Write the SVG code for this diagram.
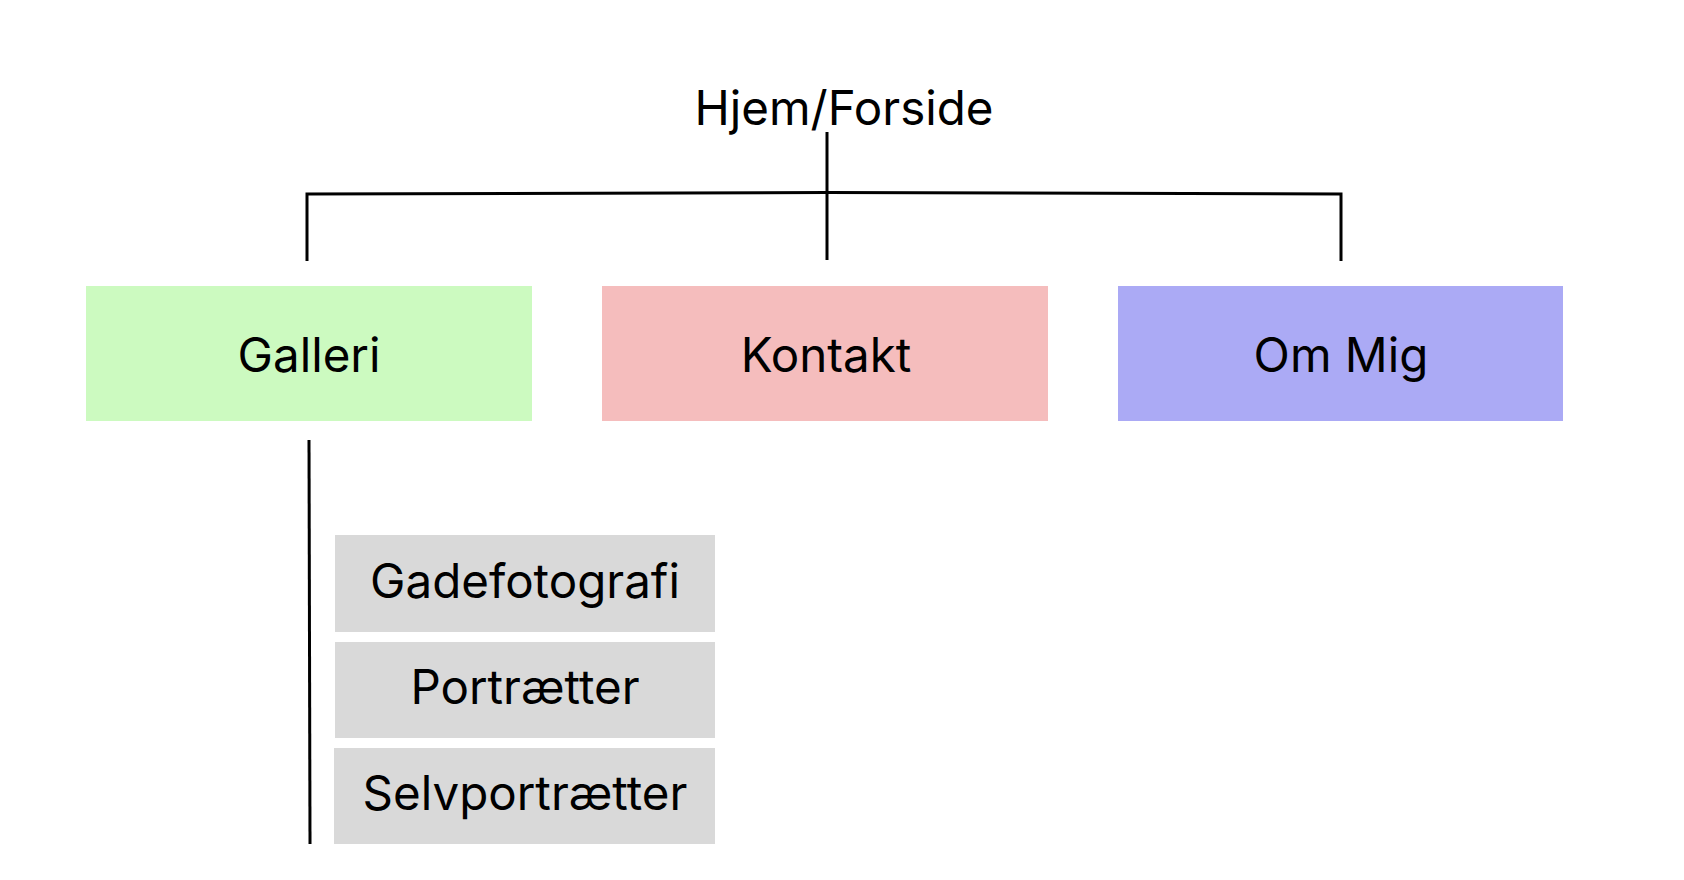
<svg xmlns="http://www.w3.org/2000/svg" width="1684" height="880" viewBox="0 0 1684 880">
<style>
  text { font-family: Inter, "Liberation Sans", sans-serif; font-size: 47.5px; fill: #000; text-anchor: middle; }
  .ln { stroke: #000; stroke-width: 3; fill: none; stroke-linecap: butt; }
  .sub { fill: #d9d9d9; }
</style>
<rect width="1684" height="880" fill="#fff"/>
<g id="connectors">
  <path class="ln" d="M827 132 V260"/>
  <path class="ln" d="M307 261 V194 L827 192.5 L1341 194 V261"/>
  <path class="ln" d="M309 440 L310 844"/>
</g>
<g id="home">
  <text x="844" y="125">Hjem/Forside</text>
</g>
<g id="galleri">
  <rect x="86" y="286" width="446" height="135" fill="#ccfac0"/>
  <text x="309" y="372">Galleri</text>
</g>
<g id="kontakt">
  <rect x="602" y="286" width="446" height="135" fill="#f5bdbd"/>
  <text x="826" y="372">Kontakt</text>
</g>
<g id="ommig">
  <rect x="1118" y="286" width="445" height="135" fill="#abaaf5"/>
  <text x="1341" y="372">Om Mig</text>
</g>
<g id="gadefotografi">
  <rect class="sub" x="335" y="535" width="380" height="97"/>
  <text x="525" y="598">Gadefotografi</text>
</g>
<g id="portraetter">
  <rect class="sub" x="335" y="642" width="380" height="96"/>
  <text x="525" y="704">Portrætter</text>
</g>
<g id="selvportraetter">
  <rect class="sub" x="334" y="748" width="381" height="96"/>
  <text x="525" y="810">Selvportrætter</text>
</g>
</svg>
